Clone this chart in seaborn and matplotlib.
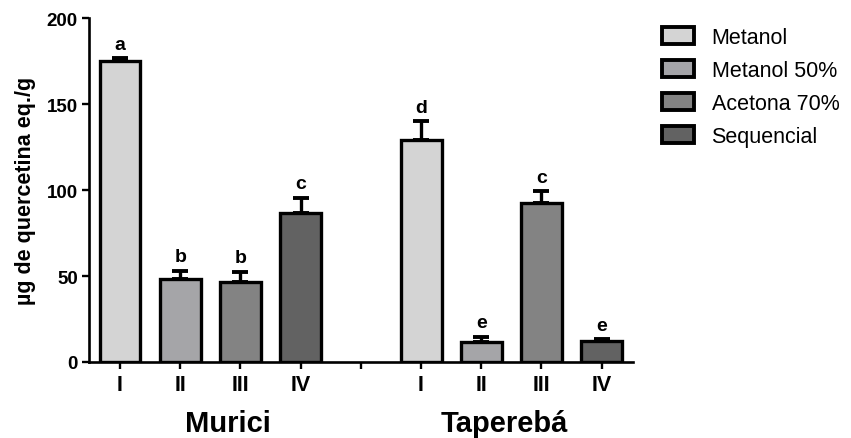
import matplotlib
matplotlib.use("Agg")
import matplotlib.pyplot as plt
from matplotlib.patches import Patch
import matplotlib.transforms as mtransforms
import seaborn as sns
import pandas as pd

# Flavonoid content (µg quercetin eq./g) per extract, mean and upper SD
fruits = ["Murici", "Taperebá"]
extracts = ["I", "II", "III", "IV"]
solvents = ["Metanol", "Metanol 50%", "Acetona 70%", "Sequencial"]

murici_means = [174.8, 48.3, 46.7, 86.4]
murici_err = [1.7, 4.8, 5.8, 9.0]
murici_letters = ["a", "b", "b", "c"]

tapereba_means = [129.2, 11.4, 92.4, 12.4]
tapereba_err = [10.7, 3.3, 6.8, 0.8]
tapereba_letters = ["d", "e", "c", "e"]

solvent_colors = ["#d4d4d4", "#a4a4a8", "#838383", "#626262"]

y_ticks = [0, 50, 100, 150, 200]

rows = []
for fruit, means, errs, letters in [
    (fruits[0], murici_means, murici_err, murici_letters),
    (fruits[1], tapereba_means, tapereba_err, tapereba_letters),
]:
    for ext, solv, m, e, l in zip(extracts, solvents, means, errs, letters):
        rows.append({"slot": f"{fruit} {ext}", "extract": ext, "solvent": solv,
                     "value": m, "err": e, "letter": l})
df = pd.DataFrame(rows)

gap = "gap"
order = [f"{fruits[0]} {e}" for e in extracts] + [gap] + [f"{fruits[1]} {e}" for e in extracts]

sns.set_style("ticks")
plt.rcParams["font.family"] = ["Liberation Sans", "DejaVu Sans"]
plt.rcParams.update({"text.color": "black", "axes.labelcolor": "black",
                     "xtick.color": "black", "ytick.color": "black",
                     "axes.edgecolor": "black"})

fig = plt.figure(figsize=(8.51, 4.39), dpi=100)
ax = fig.add_axes([89 / 851, 76 / 439, 544 / 851, 344 / 439])

sns.barplot(data=df, x="slot", y="value", hue="solvent", order=order,
            hue_order=solvents, palette=solvent_colors, dodge=False,
            width=0.68, edgecolor="black", linewidth=2.4, errorbar=None,
            legend=False, ax=ax, zorder=3)

xpos = [order.index(s) for s in df["slot"]]
ax.errorbar(xpos, df["value"], yerr=[[0] * len(df), df["err"]], fmt="none",
            ecolor="black", elinewidth=2.4, capsize=5.5, capthick=2.8, zorder=2)

for x, m, e, l in zip(xpos, df["value"], df["err"], df["letter"]):
    ax.annotate(l, (x, m + e), xytext=(0, 7), textcoords="offset points",
                ha="center", va="baseline", fontsize=14, fontweight="bold")

ax.set_xlim(-0.515, 8.52)
ax.set_ylim(0, 200)
ax.set_yticks(y_ticks)
ax.set_yticklabels([str(t) for t in y_ticks], fontsize=13.5, fontweight="bold")
ax.set_xticks(range(len(order)))
ax.set_xticklabels([s.split(" ")[-1] if s != gap else "" for s in order],
                   fontsize=15.5, fontweight="bold")
ax.tick_params(axis="both", direction="out", length=5, width=1.7, pad=3)
ax.tick_params(axis="x", pad=4)
ax.set_xlabel("")
ax.set_ylabel("µg de quercetina eq./g", fontsize=15.5, fontweight="bold", labelpad=8)

for side in ["top", "right"]:
    ax.spines[side].set_visible(False)
for side in ["left", "bottom"]:
    ax.spines[side].set_linewidth(1.9)
    ax.spines[side].set_color("black")

trans = mtransforms.blended_transform_factory(ax.transData, ax.transAxes)
for fruit, gx in zip(fruits, [1.79, 6.38]):
    ax.text(gx, -0.177, fruit, transform=trans, ha="center", va="center",
            fontsize=21, fontweight="bold")

handles = [Patch(facecolor=c, edgecolor="black", linewidth=2.8, label=s)
           for c, s in zip(solvent_colors, solvents)]
fig.legend(handles=handles, loc="upper left", bbox_to_anchor=(662 / 851, (439 - 28) / 439),
           frameon=False, fontsize=15.5, handlelength=1.5, handleheight=0.85,
           handletextpad=0.8, labelspacing=0.55, borderpad=0, borderaxespad=0)

fig.savefig("out.png", dpi=100, facecolor="white")
